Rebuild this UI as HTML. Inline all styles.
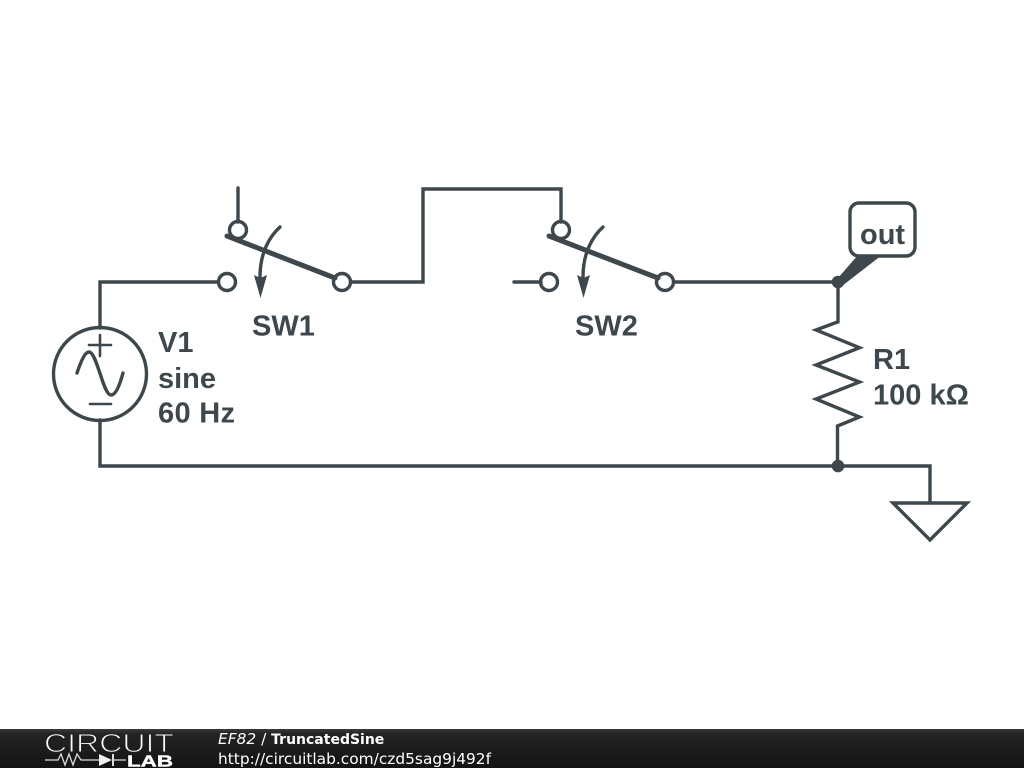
<!DOCTYPE html>
<html>
<head>
<meta charset="utf-8">
<title>TruncatedSine</title>
<style>
html,body{margin:0;padding:0;background:#fff;width:1024px;height:768px;overflow:hidden}
svg{display:block;position:absolute;left:0;top:0}
.l{font-family:"Liberation Sans",sans-serif;font-weight:bold;font-size:29px;fill:#3e474c}
.f{font-family:"DejaVu Sans",sans-serif;font-size:15.4px;fill:#fff}
</style>
</head>
<body>
<svg width="1024" height="768" viewBox="0 0 1024 768" xmlns="http://www.w3.org/2000/svg">
<defs>
<linearGradient id="g" x1="0" y1="0" x2="0" y2="1">
<stop offset="0" stop-color="#3a3a3a"/>
<stop offset="0.12" stop-color="#242424"/>
<stop offset="1" stop-color="#131313"/>
</linearGradient>
</defs>
<rect width="1024" height="768" fill="#fff"/>
<g fill="none" stroke="#3e474c" stroke-width="3.4" stroke-linecap="round" stroke-linejoin="miter">
<!-- wires -->
<path d="M100 328V282H218"/>
<path d="M100 420V466H930V503"/>
<path d="M238 188V222"/>
<path d="M351 282H423V189H561V222"/>
<path d="M514 282H541"/>
<path d="M674 282H838V322"/>
<path d="M837.500 426V466"/>
<!-- resistor -->
<path d="M837.500 322L816 330L859.500 347.700L816 365L859.500 382L816 399L859.500 417L837.500 426"/>
<!-- ground -->
<path d="M893 503H967L930 540Z"/>
<!-- source -->
<circle cx="100" cy="374" r="46.500"/>
<path d="M89 345H111M100 335V356M90 404H111" stroke-width="2.600"/>
<path d="M77 373C81 361 85 352 89 352C97 352 103 395 111 395C116 395 120 384 123 373"/>
<!-- SW1 -->
<circle cx="238" cy="230" r="8.500"/>
<circle cx="227" cy="282" r="8.500"/>
<circle cx="342" cy="282" r="8.500"/>
<path d="M227 236L335 278" stroke-width="5"/>
<path d="M280 227C270 236 260 252 260 277"/>
<!-- SW2 -->
<circle cx="561" cy="230" r="8.500"/>
<circle cx="549" cy="282" r="8.500"/>
<circle cx="665" cy="282" r="8.500"/>
<path d="M549 236L658 278" stroke-width="5"/>
<path d="M603 227C593 236 583 252 583 277"/>
<!-- out label -->
<rect x="850" y="203" width="65" height="53" rx="9" ry="9"/>
</g>
<g fill="#3e474c" stroke="none">
<path d="M254 275L260.500 278L267 275L260.500 298Z"/>
<path d="M577 275L583.500 278L590 275L583.500 298Z"/>
<path d="M838 278L858 255H882L842 286Z"/>
<circle cx="838" cy="282" r="6.300"/>
<circle cx="838" cy="466" r="6.300"/>
</g>
<text class="l" x="252" y="335.500">SW1</text>
<text class="l" x="575" y="335.500">SW2</text>
<text class="l" x="158" y="352">V1</text>
<text class="l" x="158" y="388">sine</text>
<text class="l" x="158" y="422.500" textLength="77" lengthAdjust="spacing">60 Hz</text>
<text class="l" x="873" y="369">R1</text>
<text class="l" x="873" y="404.500">100 kΩ</text>
<text class="l" x="860" y="244">out</text>
<!-- footer -->
<rect x="0" y="729" width="1024" height="39" fill="url(#g)"/>
<text x="44" y="752" font-family="'Liberation Sans',sans-serif" font-size="26" textLength="130" lengthAdjust="spacingAndGlyphs" fill="#fff" stroke="#222" stroke-width="1">CIRCUIT</text>
<g fill="none" stroke="#ddd" stroke-width="1.300">
<path d="M45 760H58L61 754L65 765L69 754L73 765L77 754L81 760H99M113 760H126"/>
<path d="M113 754V766" stroke-width="2"/>
</g>
<path d="M99 754L112 760L99 766Z" fill="#eee"/>
<text x="127" y="766.500" font-family="'Liberation Sans',sans-serif" font-weight="bold" font-size="16" textLength="46" lengthAdjust="spacingAndGlyphs" fill="#fff" stroke="#fff" stroke-width="0.400">LAB</text>
<text class="f" x="218" y="744"><tspan font-style="italic">EF82</tspan> / <tspan font-weight="bold" font-size="14">TruncatedSine</tspan></text>
<text class="f" x="218" y="764">http://circuitlab.com/czd5sag9j492f</text>
</svg>
</body>
</html>
